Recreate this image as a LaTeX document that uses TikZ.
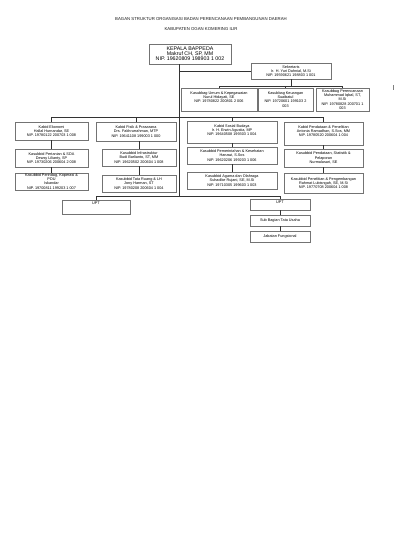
\documentclass[tikz,border=0pt]{standalone}
\usepackage{fontspec}
\setmainfont{Liberation Sans}
\begin{document}
\begin{tikzpicture}[x=1pt,y=-1pt,
  box/.style={draw=black!55, line width=0.8pt, fill=white, align=center, inner sep=0.5pt,
    font=\fontsize{3.8}{4.2}\selectfont},
  conn/.style={draw=black!80, line width=0.55pt},
  ttl/.style={text=black!90, inner sep=0pt, font=\fontsize{4.3}{5}\selectfont}]
\useasboundingbox[fill=white] (0,0) rectangle (400,550);

% titles
\node[ttl] (t1) at (201,19) {BAGAN STRUKTUR ORGANISASI BADAN PERENCANAAN PEMBANGUNAN DAERAH};
\node[ttl] (t2) at (201,29) {KABUPATEN OGAN KOMERING ILIR};

% coordinates for buses
\coordinate (main) at (179,196);
\coordinate (sbus) at (0,86);
\coordinate (mbus) at (0,117);
\coordinate (lbus) at (0,196);

% top
\node[box, minimum width=82pt, minimum height=20pt, font=\fontsize{5.3}{5}\selectfont] (kep) at (190,54)
  {KEPALA BAPPEDA\\Makruf CH, SP, MM\\NIP. 19620809 198903 1 002};
\node[box, minimum width=80pt, minimum height=16pt] (sek) at (291,71)
  {Sekretaris\\Ir. H. Yuri Dahnial, M.Si\\NIP. 19590621 198803 1 001};

% kasubbag
\node[box, minimum width=76pt, minimum height=23pt] (ku) at (219,99.5)
  {Kasubbag Umum \& Kepegawaian\\Nurul Hidayati, SE\\NIP. 19780822 200801 2 006\\\mbox{}};
\node[box, minimum width=55pt, minimum height=23pt] (kk) at (285.5,99.5)
  {Kasubbag Keuangan\\Suaibatul\\NIP. 19720601 199103 2\\003};
\node[box, minimum width=53pt, minimum height=23pt] (kp) at (342.5,99.5)
  {Kasubbag Perencanaan\\Muhammad Iqbal, ST,\\M.Si\\NIP. 19780828 200701 1\\003};

% column 1
\node[box, minimum width=73pt, minimum height=18pt] (c1a) at (51.5,131)
  {Kabid Ekonomi\\Hallal Hurnandar, SE\\NIP. 19780122 200703 1 008};
\node[box, minimum width=73pt, minimum height=18pt] (c1b) at (51.5,158)
  {Kasubbid Pertanian \& SDA\\Dewsy Lilianty, SP\\NIP. 19730206 200604 2 008};
\node[box, minimum width=73pt, minimum height=17pt] (c1c) at (51.5,181.5)
  {Kasubbid Perindag, Koperasi \&\\PDU\\Iskandar\\NIP. 19700811 199203 1 007};

% column 2
\node[box, minimum width=80pt, minimum height=19pt] (c2a) at (136,131.5)
  {Kabid Fisik \& Prasarana\\Drs. Fakhrurrahman, MTP\\NIP. 19641108 199003 1 000};
\node[box, minimum width=74pt, minimum height=17pt] (c2b) at (139,157.5)
  {Kasubbid Infrastruktur\\Budi Barlianto, ST, MM\\NIP. 19620502 200604 1 008};
\node[box, minimum width=74pt, minimum height=17pt] (c2c) at (139,183.5)
  {Kasubbid Tata Ruang \& LH\\Jony Harman, ST\\NIP. 19780208 200604 1 004};

% column 3
\node[box, minimum width=90pt, minimum height=22pt] (c3a) at (232,132)
  {Kabid Sosial Budaya\\Ir. H. Erwin Agustia, MP\\NIP. 19640508 199303 1 004\\\mbox{}};
\node[box, minimum width=90pt, minimum height=17pt] (c3b) at (232,155.5)
  {Kasubbid Pemerintahan \& Kesehatan\\Hanawi, S.Sos\\NIP. 19620206 199203 1 006};
\node[box, minimum width=90pt, minimum height=17pt] (c3c) at (232,180.5)
  {Kasubbid Agama dan Olahraga\\Suhadike Rujani, SE, M.Si\\NIP. 19710305 199603 1 003};

% column 4
\node[box, minimum width=79pt, minimum height=23pt] (c4a) at (323.5,133.5)
  {Kabid Pendataan \& Penelitian\\Antonia Ramadhan, S.Sos, MM\\NIP. 19780520 200604 1 004\\\mbox{}};
\node[box, minimum width=79pt, minimum height=18pt] (c4b) at (323.5,158)
  {Kasubbid Pendataan, Statistik \&\\Pelaporan\\Nurmalasari, SE};
\node[box, minimum width=79pt, minimum height=20pt] (c4c) at (323.5,183)
  {Kasubbid Penelitian \& Pengembangan\\Rahmat Lubisngah, SE, M.Si\\NIP. 19770708 200604 1 008};

% bottom
\node[box, minimum width=68pt, minimum height=14pt] (u1) at (96,207) {UPT\\\mbox{}\\\mbox{}};
\node[box, minimum width=60pt, minimum height=11pt] (u2) at (280,204.5) {UPT\\\mbox{}};
\node[box, minimum width=60pt, minimum height=11pt] (tu) at (280,220.5) {Sub Bagian Tata Usaha};
\node[box, minimum width=60pt, minimum height=11pt] (jf) at (280,236.5) {Jabatan Fungsional};

% connectors
\draw[conn] (kep.south -| main) -- (main);
\draw[conn] (sek.west -| main) -- (sek.west);
\draw[conn] (sek.south) -- (sek.south |- sbus);
\draw[conn] (ku.north |- sbus) -- (kp.north |- sbus);
\draw[conn] (ku.north |- sbus) -- (ku.north);
\draw[conn] (kk.north |- sbus) -- (kk.north);
\draw[conn] (kp.north |- sbus) -- (kp.north);

\draw[conn] (c1a.north |- mbus) -- (c4a.north |- mbus);
\draw[conn] (c1a.north |- mbus) -- (c1a.north);
\draw[conn] (c2a.north |- mbus) -- (c2a.north);
\draw[conn] (c3a.north |- mbus) -- (c3a.north);
\draw[conn] (c4a.north |- mbus) -- (c4a.north);

\draw[conn] (c1a.south) -- (c1b.north);
\draw[conn] (c1b.south) -- (c1c.north);
\draw[conn] (c2b.north |- c2a.south) -- (c2b.north);
\draw[conn] (c2b.south) -- (c2c.north);
\draw[conn] (c3a.south) -- (c3b.north);
\draw[conn] (c3b.south) -- (c3c.north);
\draw[conn] (c4a.south) -- (c4b.north);
\draw[conn] (c4b.south) -- (c4c.north);

\draw[conn] (u1.north |- lbus) -- (u2.north |- lbus);
\draw[conn] (u1.north |- lbus) -- (u1.north);
\draw[conn] (u2.north |- lbus) -- (u2.north);
\draw[conn] (u2.south) -- (tu.north);
\draw[conn] (tu.south) -- (jf.north);

% stray mark at right
\draw[black!50, line width=0.4pt] (393,85) -- (393,89.5);
\end{tikzpicture}
\end{document}
